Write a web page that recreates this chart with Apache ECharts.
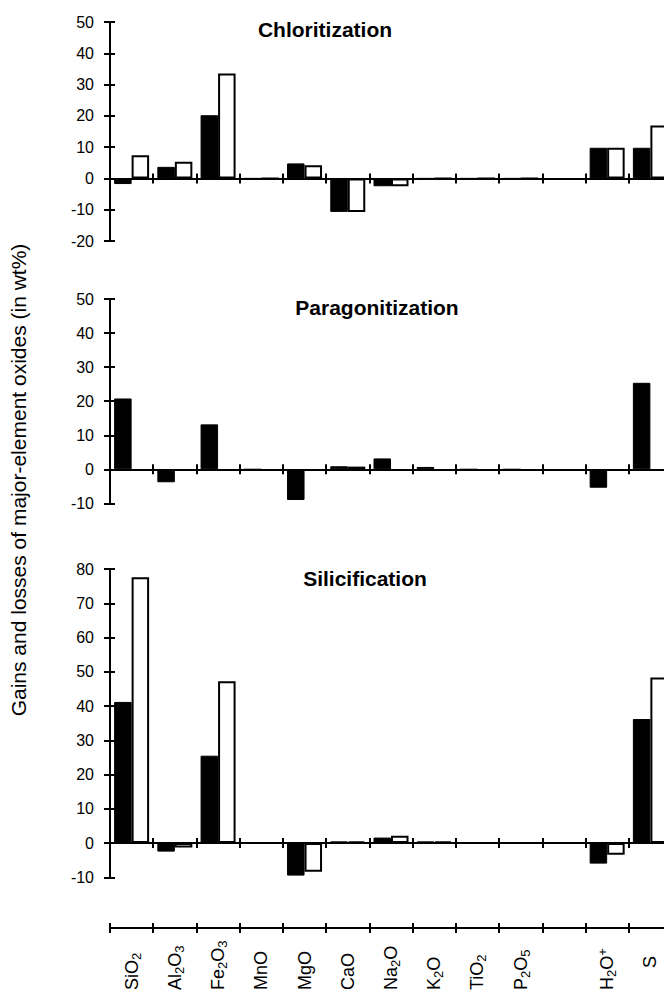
<!DOCTYPE html>
<html><head><meta charset="utf-8">
<script src="https://cdn.jsdelivr.net/npm/echarts@6/dist/echarts.min.js"></script>
<style>html,body{margin:0;padding:0;background:#fff}#c{width:664px;height:992px}</style>
</head><body><div id="c"></div>
<script>
const categories = ['SiO2','Al2O3','Fe2O3','MnO','MgO','CaO','Na2O','K2O','TiO2','P2O5','','H2O+','S'];
const categoryLabels = ['{b|SiO}{s|2}','{b|Al}{s|2}{b|O}{s|3}','{b|Fe}{s|2}{b|O}{s|3}','{b|MnO}','{b|MgO}','{b|CaO}','{b|Na}{s|2}{b|O}','{b|K}{s|2}{b|O}','{b|TiO}{s|2}','{b|P}{s|2}{b|O}{s|5}','','{b|H}{s|2}{b|O}{p|+}','{g|S}'];
const panelTitles = ['Chloritization','Paragonitization','Silicification'];
const yAxisTitle = 'Gains and losses of major-element oxides (in wt%)';
const chlorBlack = [-1.8, 3.7, 20.2, 0, 4.8, -10.7, -2.5, 0, 0, 0, null, 9.8, 9.8];
const chlorWhite = [7.4, 5.3, 33.5, 0, 4.2, -10.7, -2.5, 0, 0, 0, null, 9.8, 16.9];
const paraBlack = [20.8, -3.8, 13.2, 0, -9.0, 0.9, 3.2, 0.7, 0, 0, null, -5.4, 25.4];
const paraWhite = [null, null, null, null, null, 0.8, null, null, null, null, null, null, null];
const silBlack = [41.2, -2.5, 25.5, 0, -9.5, 0.5, 1.6, 0.5, 0, 0, null, -6.0, 36.2];
const silWhite = [77.6, -1.3, 47.2, 0, -8.4, 0.5, 2.1, 0.5, 0, 0, null, -3.4, 48.3];
const yRanges = [[-20, 50], [-10, 50], [-10, 80]];

const FONT = "'Liberation Sans', Arial, Helvetica, sans-serif";
const lineSt = {color: '#000', width: 2};
const gridsPos = [
  {top: 22, height: 219},
  {top: 299, height: 204.4},
  {top: 569, height: 308.3}
];
const grids = [], xAxes = [], yAxes = [], series = [];
const blacks = [chlorBlack, paraBlack, silBlack];
const whites = [chlorWhite, paraWhite, silWhite];
gridsPos.forEach((g, i) => {
  grids.push({left: 110, right: -8, top: g.top, height: g.height, outerBoundsMode: 'none', containLabel: false});
  const yA = yAxes.length;
  yAxes.push({gridIndex: i, type: 'value', min: yRanges[i][0], max: yRanges[i][1], interval: 10, position: 'left',
    axisLine: {show: true, onZero: false, lineStyle: lineSt},
    axisTick: {show: true, length: 6, lineStyle: lineSt},
    axisLabel: {show: true, color: '#000', fontSize: 16, fontFamily: FONT, margin: 16},
    splitLine: {show: false}});
  yAxes.push({gridIndex: i, type: 'value', min: yRanges[i][0], max: yRanges[i][1], interval: 10, position: 'left',
    axisLine: {show: false, onZero: false},
    axisTick: {show: true, inside: true, length: 5, lineStyle: lineSt},
    axisLabel: {show: false}, splitLine: {show: false}});
  const xA = xAxes.length;
  ['bottom', 'top'].forEach(pos => {
    xAxes.push({gridIndex: i, type: 'category', data: categories, position: pos,
      axisLine: {show: true, onZero: true, onZeroAxisIndex: yA, lineStyle: lineSt},
      axisTick: {show: true, length: 5, lineStyle: lineSt, alignWithLabel: false, interval: 0},
      axisLabel: {show: false}, splitLine: {show: false}});
  });
  series.push({type: 'bar', xAxisIndex: xA, yAxisIndex: yA, data: blacks[i], barWidth: 17.5, barGap: '0%',
    itemStyle: {color: '#000', borderColor: '#000', borderWidth: 1}, silent: true});
  series.push({type: 'bar', xAxisIndex: xA, yAxisIndex: yA, data: whites[i], barWidth: 17.5, barGap: '0%',
    itemStyle: {color: '#fff', borderColor: '#000', borderWidth: 2}, silent: true});
});
// bottom label axis: grid bottom edge at y = 928, zero at the bottom so labels sit on the line
grids.push({left: 110, right: -8, top: 900, height: 28, outerBoundsMode: 'none', containLabel: false});
const yB = yAxes.length;
yAxes.push({gridIndex: 3, type: 'value', min: 0, max: 1, show: false});
['bottom', 'top'].forEach(pos => {
  xAxes.push({gridIndex: 3, type: 'category', data: categories, position: pos,
    axisLine: {show: true, onZero: true, onZeroAxisIndex: yB, lineStyle: lineSt},
    axisTick: {show: true, length: 5, lineStyle: lineSt, interval: 0},
    axisLabel: pos === 'bottom' ? {show: true, interval: 0, rotate: 90, margin: 8, width: 54,
      color: '#000', fontSize: 18, fontFamily: FONT,
      formatter: (v, idx) => categoryLabels[idx],
      rich: {
        b: {fontSize: 18, fontFamily: FONT, color: '#000', lineHeight: 22, align: 'left'},
        s: {fontSize: 13, fontFamily: FONT, color: '#000', lineHeight: 13, verticalAlign: 'bottom', align: 'left'},
        p: {fontSize: 13, fontFamily: FONT, color: '#000', lineHeight: 13, verticalAlign: 'top', align: 'left'},
        g: {fontSize: 18, fontFamily: FONT, color: '#000', lineHeight: 22, align: 'left', padding: [0, 0, 0, 22]}
      }} : {show: false},
    splitLine: {show: false}});
});

const titlePos = [[325, 29], [377, 307], [365, 578]];
const graphic = panelTitles.map((t, i) => ({type: 'text', x: titlePos[i][0], y: titlePos[i][1],
  style: {text: t, font: 'bold 21px ' + FONT, fill: '#000', align: 'center', verticalAlign: 'middle'}}));
graphic.push({type: 'text', x: 18, y: 480, rotation: Math.PI / 2,
  style: {text: yAxisTitle, font: '21px ' + FONT, fill: '#000', align: 'center', verticalAlign: 'middle'}});

const chart = echarts.init(document.getElementById('c'), null, {renderer: 'svg'});
chart.setOption({animation: false, backgroundColor: '#fff', grid: grids, xAxis: xAxes, yAxis: yAxes, series: series, graphic: graphic});
</script></body></html>
